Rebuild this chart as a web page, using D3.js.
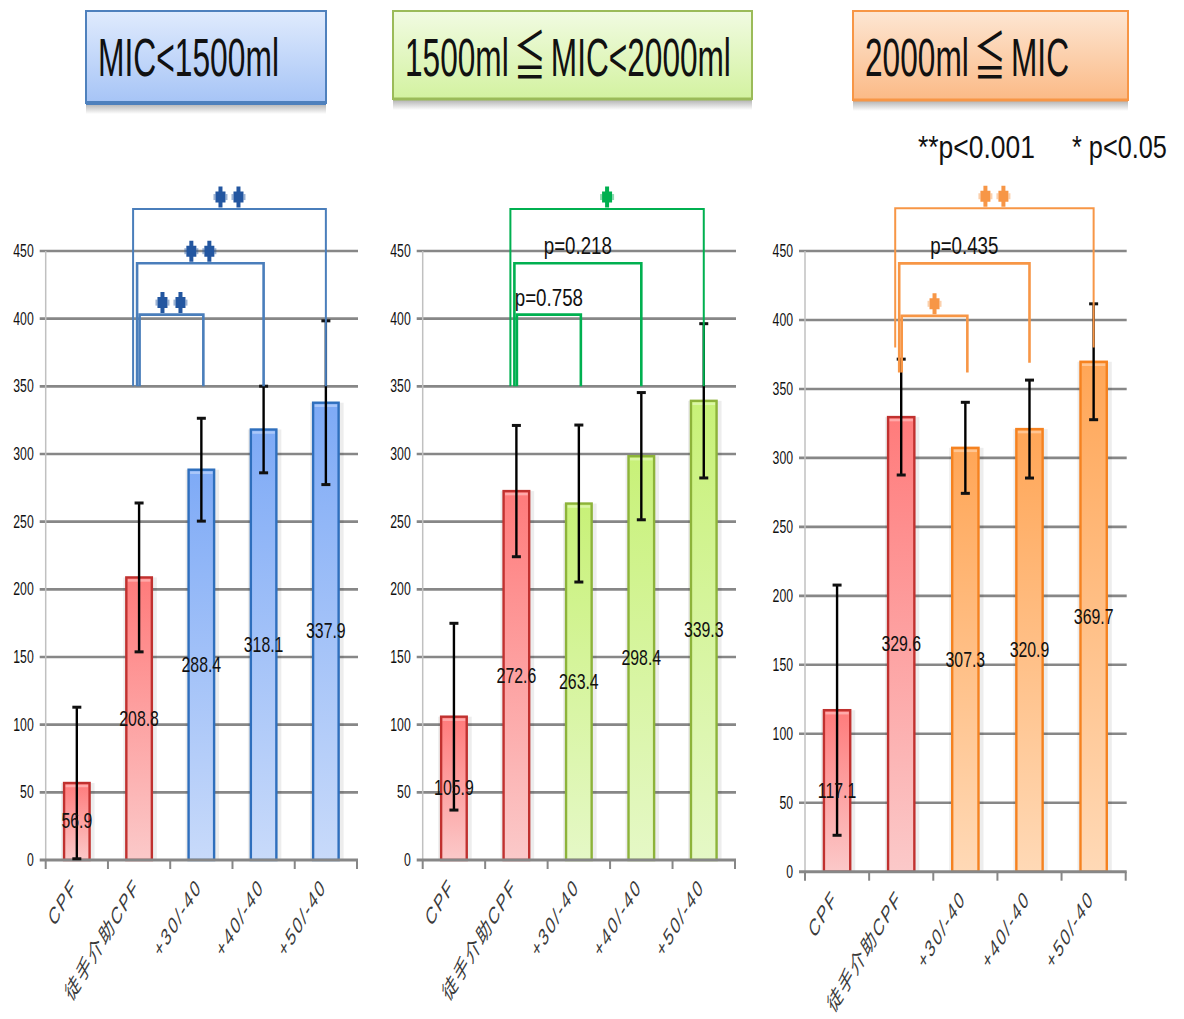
<!DOCTYPE html>
<html>
<head>
<meta charset="utf-8">
<script src="https://cdn.jsdelivr.net/npm/d3@7"></script>
<style>
  body { margin: 0; background: #fff; }
  svg { display: block; }
  text { font-family: "Liberation Sans", Arial, "Noto Sans CJK JP", sans-serif; }
</style>
</head>
<body>
<svg id="chart" width="1184" height="1019"></svg>
<script>
// categories shared by the three panels
const categories = ["CPF", "徒手介助CPF", "+30/-40", "+40/-40", "+50/-40"]
const groupTitles = ["MIC<1500ml", "1500ml≦MIC<2000ml", "2000ml≦MIC"]
const yTicks = [0, 50, 100, 150, 200, 250, 300, 350, 400, 450]
const legendItems = ["**p<0.001", "* p<0.05"]

// means and SDs
const meansLow = [56.9, 208.8, 288.4, 318.1, 337.9]
const sdLow = [56, 55, 38, 32, 60.5]
const meansMid = [105.9, 272.6, 263.4, 298.4, 339.3]
const sdMid = [69, 48.5, 58, 47, 57]
const meansHigh = [117.1, 329.6, 307.3, 320.9, 369.7]
const sdHigh = [90.7, 42, 33, 35.5, 42]

// significance brackets: [from, to, top value, left leg end, right leg end, label]
const bracketsLow = [
  [1, 4, 481, 350, 350, "**"],
  [1, 3, 441, 350, 350, "**"],
  [1, 2, 403, 350, 350, "**"]
]
const bracketsMid = [
  [1, 4, 481, 350, 350, "*"],
  [1, 3, 441, 350, 350, "p=0.218"],
  [1, 2, 403, 350, 350, "p=0.758"]
]
const bracketsHigh = [
  [1, 4, 481, 380, 380, "**"],
  [1, 3, 441, 362, 369, "p=0.435"],
  [1, 2, 403, 362, 362, "*"]
]

const svg = d3.select("#chart")
const defs = svg.append("defs")

function vGradient(id, top, bottom) {
  const g = defs.append("linearGradient").attr("id", id)
    .attr("x1", 0).attr("y1", 0).attr("x2", 0).attr("y2", 1)
  g.append("stop").attr("offset", "0%").attr("stop-color", top)
  g.append("stop").attr("offset", "100%").attr("stop-color", bottom)
}
vGradient("g-red", "#ff7b7b", "#fbc9c9")
vGradient("g-blue", "#7eaaf6", "#c8dafa")
vGradient("g-green", "#c8f178", "#e5f8c6")
vGradient("g-orange", "#ffa657", "#ffd9b6")
vGradient("t-blue", "#e0ebfd", "#a6c4f6")
vGradient("t-green", "#f1fbe2", "#d3f2a0")
vGradient("t-orange", "#fde6d3", "#fbba86")
vGradient("t-shadow", "#b4b4b4", "#ffffff")

const panels = [
  {means: meansLow, sd: sdLow, brackets: bracketsLow, x0: 45.7, x1: 357, y0: 860,
   fill: "url(#g-blue)", stroke: "#2f6fbd", accent: "#4a7ebb", star: "#2356a0"},
  {means: meansMid, sd: sdMid, brackets: bracketsMid, x0: 422.7, x1: 735, y0: 860,
   fill: "url(#g-green)", stroke: "#8db33a", accent: "#00b050", star: "#00b050"},
  {means: meansHigh, sd: sdHigh, brackets: bracketsHigh, x0: 805, x1: 1125.7, y0: 871.7,
   fill: "url(#g-orange)", stroke: "#f58220", accent: "#f79646", star: "#f79646"}
]

// squished text helper (the whole picture is narrow and tall)
function label(g, x, y, str, size, sx, anchor) {
  return g.append("text")
    .attr("transform", `translate(${x},${y}) scale(${sx},1)`)
    .attr("text-anchor", anchor || "middle")
    .attr("font-size", size)
    .attr("fill", "#111")
    .text(str)
}

// text squeezed horizontally to a given width
function fitText(x, y, str, size, width) {
  const t = svg.append("text").attr("font-size", size).attr("fill", "#111")
  let afterSign = false
  // the ≦ sign sits in a full-width cell in the original
  str.split(/(≦)/).forEach(part => {
    if (!part) return
    const s = t.append("tspan").text(part)
    if (part === "≦") {
      s.attr("dx", 9)
      afterSign = true
    } else if (afterSign) {
      s.attr("dx", 9)
    }
  })
  const w = t.node().getComputedTextLength() + (str.includes("≦") ? 18 : 0)
  t.attr("transform", `translate(${x},${y}) scale(${width / w},1)`)
  return t
}

function starMark(g, cx, cy, color) {
  const p = d3.path()
  p.rect(cx - 5, cy - 5.5, 10, 11)
  p.rect(cx - 2, cy - 10.5, 4, 5)
  p.rect(cx - 2, cy + 5.5, 4, 5)
  g.append("path").attr("d", p.toString()).attr("fill", color)
  g.append("rect").attr("x", cx - 7).attr("y", cy - 3).attr("width", 2).attr("height", 6)
    .attr("fill", color).attr("opacity", 0.45)
  g.append("rect").attr("x", cx + 5).attr("y", cy - 3).attr("width", 2).attr("height", 6)
    .attr("fill", color).attr("opacity", 0.45)
}

panels.forEach(function(pn) {
  const g = svg.append("g")
  const x = d3.scaleBand().domain(categories).range([pn.x0, pn.x1])
  const y = d3.scaleLinear().domain([0, 450]).range([pn.y0, 251])
  const bw = x.bandwidth() * 0.41
  const cx = i => x(categories[i]) + x.bandwidth() / 2

  // gridlines
  g.selectAll(".grid").data(yTicks.slice(1)).join("line")
    .attr("x1", pn.x0 - 6).attr("x2", pn.x1 + 1)
    .attr("y1", d => y(d)).attr("y2", d => y(d))
    .attr("stroke", "#878787").attr("stroke-width", 2.6)

  // value axis line
  g.append("line").attr("x1", pn.x0).attr("x2", pn.x0)
    .attr("y1", y(450)).attr("y2", pn.y0)
    .attr("stroke", "#c0c0c0").attr("stroke-width", 1.5)

  // y tick labels
  yTicks.forEach(t => {
    label(g, pn.x0 - 12, y(t) + 6, t, 18, 0.68, "end")
  })

  // bars
  const bars = g.selectAll(".bar").data(pn.means).join("g")
  bars.append("rect")
    .attr("x", (d, i) => cx(i) - bw / 2 - 3).attr("width", bw + 8)
    .attr("y", d => y(d)).attr("height", d => pn.y0 - y(d))
    .attr("fill", "#000").attr("opacity", 0.07)
  bars.append("rect")
    .attr("x", (d, i) => cx(i) - bw / 2).attr("width", bw)
    .attr("y", d => y(d)).attr("height", d => pn.y0 - y(d))
    .attr("fill", (d, i) => i < 2 ? "url(#g-red)" : pn.fill)
    .attr("stroke", (d, i) => i < 2 ? "#c0312f" : pn.stroke)
    .attr("stroke-width", 2.4)
  bars.append("line")
    .attr("x1", (d, i) => cx(i) - bw / 2 + 1.5).attr("x2", (d, i) => cx(i) + bw / 2 - 1.5)
    .attr("y1", d => y(d) + 3).attr("y2", d => y(d) + 3)
    .attr("stroke", "#fff").attr("stroke-opacity", 0.35).attr("stroke-width", 2.5)

  // bottom axis
  g.append("line").attr("x1", pn.x0 - 6).attr("x2", pn.x1 + 1)
    .attr("y1", pn.y0).attr("y2", pn.y0)
    .attr("stroke", "#878787").attr("stroke-width", 3)
  const edges = categories.map(c => x(c)).concat([pn.x1])
  g.selectAll(".tick").data(edges).join("line")
    .attr("x1", d => d).attr("x2", d => d)
    .attr("y1", pn.y0).attr("y2", pn.y0 + 9)
    .attr("stroke", "#878787").attr("stroke-width", 2)

  // error bars
  pn.means.forEach((m, i) => {
    const lo = Math.max(0, m - pn.sd[i]), hi = m + pn.sd[i]
    g.append("line").attr("x1", cx(i)).attr("x2", cx(i))
      .attr("y1", y(hi)).attr("y2", y(lo))
      .attr("stroke", "#000").attr("stroke-width", 2.4)
    g.append("line").attr("x1", cx(i) - 4.5).attr("x2", cx(i) + 4.5)
      .attr("y1", y(hi)).attr("y2", y(hi)).attr("stroke", "#111").attr("stroke-width", 3)
    if (m - pn.sd[i] > 0) {
      g.append("line").attr("x1", cx(i) - 4.5).attr("x2", cx(i) + 4.5)
        .attr("y1", y(lo)).attr("y2", y(lo)).attr("stroke", "#111").attr("stroke-width", 3)
    }
  })

  // value labels in the middle of each bar
  pn.means.forEach((m, i) => {
    label(g, cx(i), y(m / 2) + 7, m.toFixed(1), 22, 0.72)
  })

  // category labels
  categories.forEach((c, i) => {
    g.append("text")
      .attr("transform", `translate(${cx(i) + 1},${pn.y0 + 28}) scale(0.6,1) rotate(-45)`)
      .attr("text-anchor", "end")
      .attr("font-size", 24)
      .attr("letter-spacing", 2.6)
      .attr("fill", "#3a3a3a")
      .text(c)
  })

  // significance brackets
  const nest = [-6, -2, 0.5]
  pn.brackets.forEach((b, k) => {
    const xa = cx(b[0]) + nest[k], xb = cx(b[1]) + (k === 2 ? 2 : 0)
    const p = d3.path()
    p.moveTo(xa, y(b[3]))
    p.lineTo(xa, y(b[2]))
    p.lineTo(xb, y(b[2]))
    p.lineTo(xb, y(b[4]))
    g.append("path").attr("d", p.toString())
      .attr("fill", "none").attr("stroke", pn.accent)
      .attr("stroke-width", k === 0 ? 2 : 2.6)
    const mid = (xa + xb) / 2
    if (b[5].startsWith("p")) {
      label(g, mid, y(b[2]) - 9, b[5], 24, 0.78)
    } else {
      const n = b[5].length
      for (let s = 0; s < n; s++) {
        starMark(g, mid + (s - (n - 1) / 2) * 18, y(b[2]) - 12, pn.star)
      }
    }
  })
})

// title boxes
const titleBoxes = [
  {x: 86, y: 11, w: 240, h: 92, fill: "url(#t-blue)", stroke: "#4f81bd", bottom: 4, tx: 98, tl: 181},
  {x: 393, y: 11, w: 359, h: 88, fill: "url(#t-green)", stroke: "#9bbb59", bottom: 3, tx: 405, tl: 326},
  {x: 853, y: 11, w: 275, h: 89, fill: "url(#t-orange)", stroke: "#f79646", bottom: 3, tx: 865, tl: 204}
]
titleBoxes.forEach((b, i) => {
  svg.append("rect").attr("x", b.x).attr("y", b.y + b.h + 1).attr("width", b.w).attr("height", 10)
    .attr("fill", "url(#t-shadow)")
  svg.append("rect").attr("x", b.x).attr("y", b.y).attr("width", b.w).attr("height", b.h)
    .attr("fill", b.fill).attr("stroke", b.stroke).attr("stroke-width", 2)
  svg.append("line").attr("x1", b.x).attr("x2", b.x + b.w)
    .attr("y1", b.y + b.h).attr("y2", b.y + b.h)
    .attr("stroke", b.stroke).attr("stroke-width", b.bottom)
  fitText(b.tx, 76, groupTitles[i], 54, b.tl)
})

// legend
fitText(918, 158, legendItems[0], 32, 117)
fitText(1072, 158, legendItems[1], 32, 95)
</script>
</body>
</html>
